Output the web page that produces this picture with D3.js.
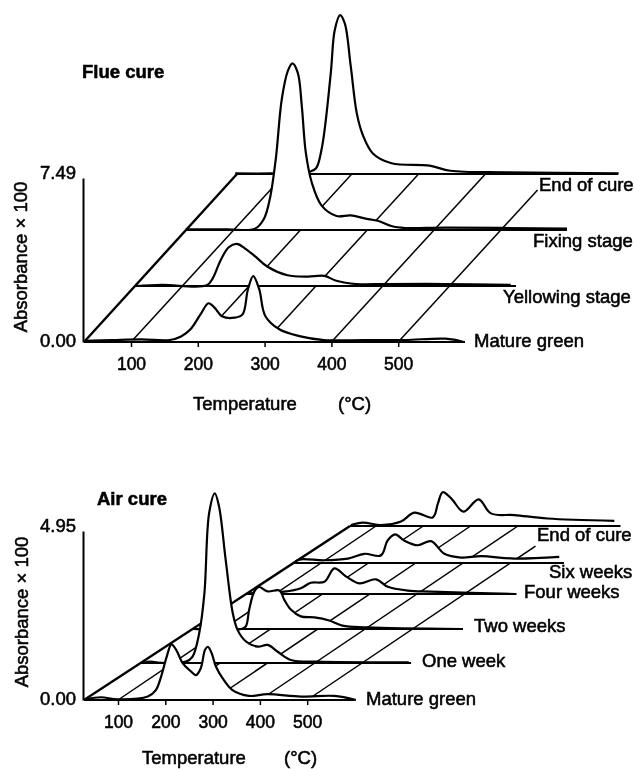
<!DOCTYPE html>
<html><head><meta charset="utf-8">
<script src="https://cdn.jsdelivr.net/npm/d3@7/dist/d3.min.js"></script>
<style>
html,body{margin:0;padding:0;background:#fff}
svg{display:block;filter:blur(.3px)}
text{font-family:"Liberation Sans",Arial,sans-serif;fill:#000;stroke:#000;stroke-width:.55px}
</style></head><body>
<svg id="c" width="634" height="769"></svg>
<script>
// ---------- data: temperature (°C) and absorbance x 100 ----------
const tickTemps = [100,200,300,400,500];

const flueLabels = ["Mature green","Yellowing stage","Fixing stage","End of cure"];
const flueMatureT = [31,73,116,158,175,189,204,216,225,237,255,267,275,283,292,301,322,352,389,449,510,571,598];
const flueMatureA = [.05,.09,.12,.09,.25,.58,1.26,1.77,1.57,1.16,1.11,1.26,2.40,3.01,2.40,1.19,.58,.27,.09,.09,.09,.15,.0];
const flueYellowT = [31,70,137,146,158,170,182,194,210,228,258,288,313,331,361,404,495,592];
const flueYellowA = [.0,.05,.03,.35,1.19,1.77,1.92,1.72,1.34,.88,.49,.43,.46,.24,.09,.09,.09,.05];
const flueFixingT = [29,91,133,146,155,164,173,182,189,197,203,209,218,233,255,276,297,318,337,358,419,600];
const flueFixingA = [.03,.03,.06,.49,1.40,3.23,5.97,7.26,7.61,7.18,5.66,3.53,2.16,1.10,.64,.67,.53,.41,.18,.09,.11,.06];
const flueEndT = [27,82,139,148,157,170,176,184,191,200,209,218,233,261,318,349,433,601];
const flueEndA = [.03,.03,.11,.26,1.25,4.60,6.58,7.26,6.88,4.90,2.77,1.78,.94,.49,.38,.15,.08,.03];

const airLabels = ["Mature green","One week","Two weeks","Four weeks","Six weeks","End of cure"];
const airMatureT = [30,64,99,163,180,191,203,213,223,237,251,265,275,284,290,298,307,321,342,377,416,487,557,603];
const airMatureA = [.02,.08,.02,.10,.29,.68,1.27,1.63,1.47,1.07,.88,.73,.93,1.47,1.56,1.37,.98,.64,.29,.12,.17,.10,.12,.0];
const airOneT = [32,50,64,85,124,138,152,163,173,185,194,208,223,233,251,276,297,318,346,402,595];
const airOneA = [.0,.04,.01,.0,.04,.19,.87,2.04,4.39,4.97,4.58,3.02,1.46,.97,.63,.48,.53,.33,.09,.04,.02];
const airTwoT = [30,131,141,148,159,169,187,212,222,236,257,286,317,345,398,596];
const airTwoA = [.0,.0,.08,.57,1.10,1.23,1.10,1.13,.86,.57,.37,.34,.25,.10,.05,.0];
const airFourT = [30,109,144,165,194,215,240,268,303,328,370,419,599];
const airFourA = [.02,.07,.17,.33,.36,.75,.51,.31,.43,.21,.10,.07,.0];
const airSixT = [30,40,93,143,178,213,227,243,262,291,319,347,382,425,495,590];
const airSixA = [.0,.10,.08,.13,.27,.22,.66,.84,.66,.52,.64,.27,.16,.20,.13,.18];
const airEndT = [30,55,94,136,164,203,214,224,242,268,300,326,376,446,587];
const airEndA = [.03,.10,.03,.13,.39,.25,.66,.99,.81,.42,.78,.37,.32,.22,.15];

const flueSeries = [[flueMatureT,flueMatureA],[flueYellowT,flueYellowA],[flueFixingT,flueFixingA],[flueEndT,flueEndA]];
const airSeries = [[airMatureT,airMatureA],[airOneT,airOneA],[airTwoT,airTwoA],[airFourT,airFourA],[airSixT,airSixA],[airEndT,airEndA]];

// ---------- layout ----------
const svg = d3.select("#c");
const FS = 18.5;
const shape = d3.curveCatmullRom.alpha(0.5);
function panel(o){
  const g = svg.append("g");
  const x = d3.scaleLinear().domain([100,600]).range([o.x100,o.x100+5*o.pxPer100]);
  const y = d3.scaleLinear().domain([0,o.maxA]).range([o.base,o.top]);
  const ox = i=>o.depthX[i], oy = i=>o.depthY[i];
  const back = o.depthX.length-1;

  // slanted temperature guides
  g.selectAll("line.s").data(tickTemps).join("line")
    .attr("x1",d=>x(d)).attr("y1",o.base)
    .attr("x2",d=>{const f=d===500?o.leaderFrac:1;return x(d)+o.slantDX*f;})
    .attr("y2",d=>{const f=d===500?o.leaderFrac:1;return o.base+oy(back)*f;})
    .attr("stroke","#000").attr("stroke-width",1.5);
  // left edge
  g.append("line").attr("x1",o.x30).attr("y1",o.base)
    .attr("x2",o.x30+ox(back)).attr("y2",o.base+oy(back))
    .attr("stroke","#000").attr("stroke-width",2.4);

  // traces, back to front
  d3.range(back,-1,-1).forEach(i=>{
    const [T,A]=o.series[i];
    const pts=T.map((t,k)=>[t,A[k]]);
    const gi=g.append("g").attr("transform",`translate(${ox(i)},${oy(i)})`);
    gi.append("path").datum(pts).attr("fill","#fff").attr("d",
      d3.area().x(d=>x(d[0])).y0(o.base).y1(d=>y(d[1])).curve(shape));
    gi.append("line").attr("x1",o.x30).attr("x2",x(600)).attr("y1",o.base).attr("y2",o.base)
      .attr("stroke","#000").attr("stroke-width",1.8);
    gi.append("path").datum(pts).attr("fill","none").attr("stroke","#000").attr("stroke-width",2.2)
      .attr("stroke-linejoin","round")
      .attr("d",d3.line().x(d=>x(d[0])).y(d=>y(d[1])).curve(shape));
  });

  // axes
  const ax=g.append("g").attr("transform",`translate(0,${o.base})`)
    .call(d3.axisBottom(x).tickValues(tickTemps).tickFormat(d3.format("d")).tickSize(5).tickPadding(11));
  ax.select(".domain").remove();
  ax.selectAll("line").attr("stroke","#000").attr("stroke-width",1.5);
  ax.selectAll("text").attr("font-size",17.5).attr("fill",null);
  ax.attr("font-family",null).attr("font-size",null);
  const ay=g.append("g").attr("transform",`translate(${o.x30-1},0)`)
    .call(d3.axisLeft(y).tickValues([0,o.maxA]).tickFormat(d3.format(".2f")).tickSize(0).tickPadding(7));
  ay.select(".domain").attr("stroke","#000").attr("stroke-width",2);
  ay.selectAll("text").attr("font-size",FS).attr("fill",null)
    .attr("dy",d=>d===0?".25em":".05em");
  ay.attr("font-family",null).attr("font-size",null);

  // texts
  const t=(s,px,py,anchor,weight)=>g.append("text").text(s).attr("x",px).attr("y",py)
     .attr("font-size",FS).attr("text-anchor",anchor||"start").attr("font-weight",weight||"normal")
     .attr("dominant-baseline","middle");
  t(o.title,o.titleX,o.titleY,"start","bold");
  t("Temperature",o.tempX,o.tempY);
  t("(°C)",o.unitX,o.tempY);
  t("Absorbance × 100",0,0,"middle").attr("transform",`translate(${o.absX},${o.absY}) rotate(-90)`);
  o.labels.forEach((s,i)=>t(s,o.labelX[i],o.labelY[i]));
}

panel({series:flueSeries,labels:flueLabels,title:"Flue cure",maxA:7.49,
  x30:84,x100:131,pxPer100:66.8,base:342,top:178,
  depthX:[0,51,102,153],depthY:[0,-56,-112,-168],slantDX:154,leaderFrac:.905,
  titleX:82,titleY:73,tempX:193,tempY:405,unitX:338,absX:22,absY:257,
  labelX:[474,503,533,539],labelY:[342,298,242,186]});

panel({series:airSeries,labels:airLabels,title:"Air cure",maxA:4.95,
  x30:84,x100:118,pxPer100:47.3,base:700,top:531,
  depthX:[0,56.6,108.5,162,209.5,266],depthY:[0,-37,-71,-106,-137,-174],slantDX:258,leaderFrac:.885,
  titleX:97,titleY:500,tempX:142,tempY:759,unitX:284,absX:23,absY:612,
  labelX:[366,422,474,524,549,537],labelY:[700,662,627,593,573,536]});
</script>
</body></html>
